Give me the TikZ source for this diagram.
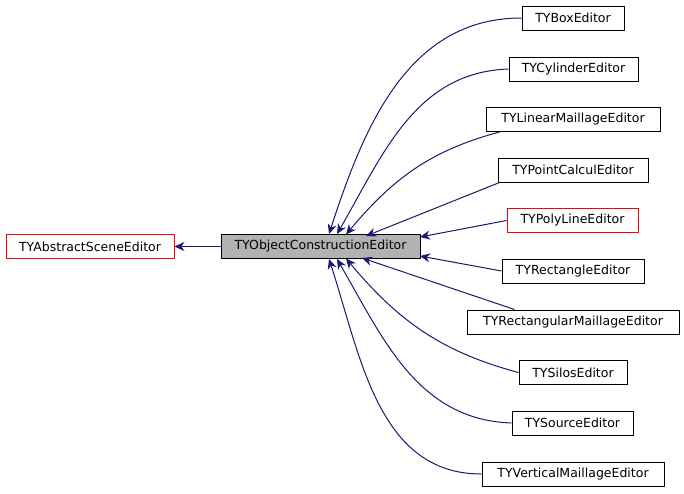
\documentclass[tikz,border=0pt]{standalone}
\usepackage{fontspec}
\setmainfont{DejaVu Sans}
\usetikzlibrary{arrows.meta}
\definecolor{navy}{RGB}{25,25,112}
\tikzset{
  cls/.style={draw=black,line width=1pt,fill=white,inner sep=0pt,minimum height=24pt,font=\fontsize{12.5}{14}\selectfont},
  edge/.style={draw=navy,line width=1pt,-{Stealth[length=10pt,width=9pt,fill=navy]}}
}
\begin{document}
\begin{tikzpicture}[x=1pt,y=-1pt]
\useasboundingbox (0,0) rectangle (684,493);

\node (ase) [cls,draw=red,minimum width=168pt] at (90,246.5) {TYAbstractSceneEditor};
\node (oce) [cls,fill=black!30,minimum width=199pt] at (320.5,246.5) {TYObjectConstructionEditor};

\node (box) [cls,minimum width=102pt] at (573,18) {TYBoxEditor};
\node (cyl) [cls,minimum width=129pt] at (573.5,69) {TYCylinderEditor};
\node (lin) [cls,minimum width=174pt] at (573,119.5) {TYLinearMaillageEditor};
\node (pcl) [cls,minimum width=150pt] at (573,170) {TYPointCalculEditor};
\node (pol) [cls,draw=red,minimum width=131pt] at (572.5,220.5) {TYPolyLineEditor};
\node (rec) [cls,minimum width=142pt] at (573,271) {TYRectangleEditor};
\node (rma) [cls,minimum width=212pt] at (573,322) {TYRectangularMaillageEditor};
\node (sil) [cls,minimum width=108pt] at (573,372.5) {TYSilosEditor};
\node (src) [cls,minimum width=121pt] at (572.5,423) {TYSourceEditor};
\node (vma) [cls,minimum width=182pt] at (573,474) {TYVerticalMaillageEditor};

% end points on the base class
\coordinate (t1) at (329,234);
\coordinate (t2) at (337,234);
\coordinate (t3) at (346,234.5);
\coordinate (t4) at (366,236);
\coordinate (t5) at (420,237);
\coordinate (t6) at (420,256);
\coordinate (t7) at (362,258);
\coordinate (t8) at (346,258.5);
\coordinate (t9) at (337,259);
\coordinate (t10) at (329,259);

\draw[edge] (oce) -- (ase);
\draw[edge] (box.west) to[out=180,in=72] (t1);
\draw[edge] (cyl.west) to[out=182,in=60] (t2);
\draw[edge] (lin.south west) ++(14,0) to[out=195,in=50] (t3);
\draw[edge] (pcl.south west) ++(2,0) -- (t4);
\draw[edge] (pol.west) -- (t5);
\draw[edge] (rec.west) -- (t6);
\draw[edge] (rma.north west) ++(48,0) -- (t7);
\draw[edge] (sil.west) to[out=165,in=-50] (t8);
\draw[edge] (src.west) to[out=178,in=-60] (t9);
\draw[edge] (vma.west) to[out=180,in=-72] (t10);
\end{tikzpicture}
\end{document}
